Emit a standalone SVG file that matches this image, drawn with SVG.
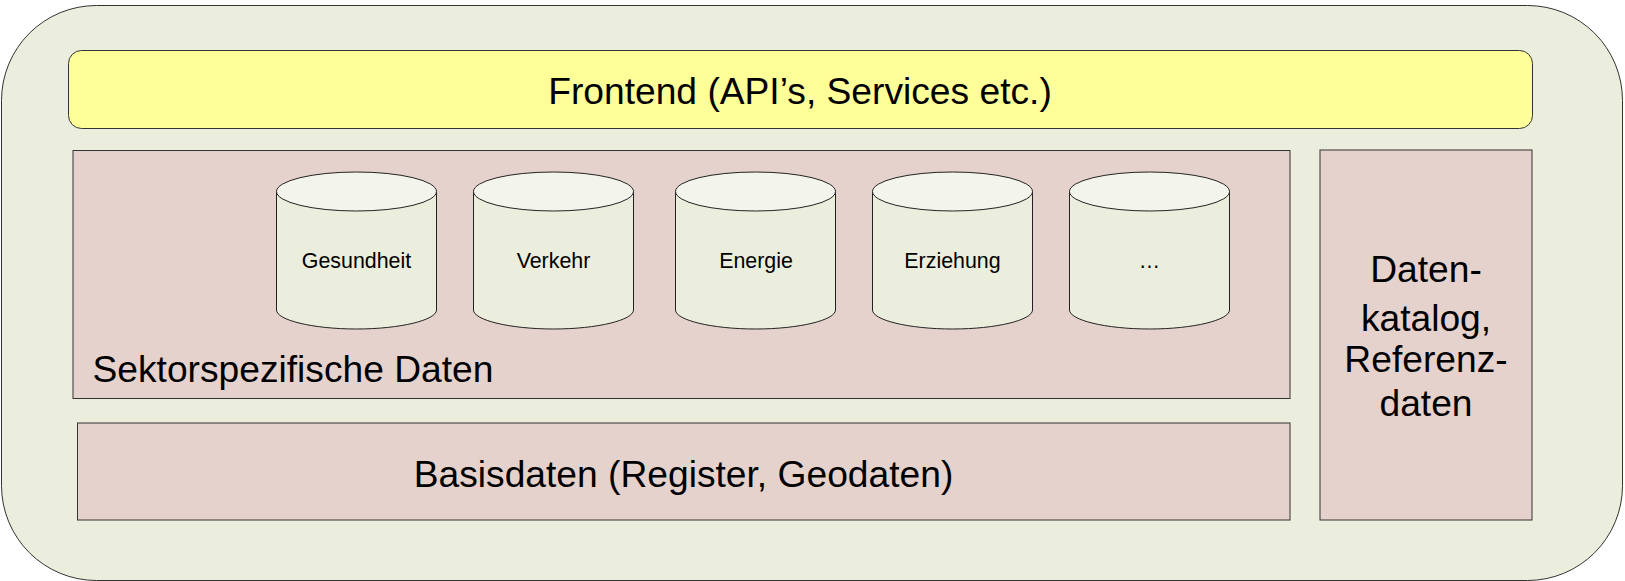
<svg xmlns="http://www.w3.org/2000/svg" width="1625" height="581" viewBox="0 0 1625 581">
<style>
.s{stroke:#333;stroke-width:1;}
.box{fill:#e6d2cd;stroke:#333;stroke-width:1;}
.cyl{fill:#ebeedd;stroke:#222;stroke-width:1;}
.top{fill:#f3f5ec;stroke:#222;stroke-width:1;}
text{font-family:"Liberation Sans",Arial,sans-serif;fill:#000;text-anchor:middle;}
.big{font-size:37.2px;}
.small{font-size:21.4px;}
</style>
<defs>
<g id="cylinder">
<path class="cyl" d="M0 19.5V138C0 148 36 157 80 157S160 148 160 138V19.5Z"/>
<ellipse class="top" cx="80" cy="19.5" rx="80" ry="19.5"/>
</g>
</defs>
<g id="connectors"></g>
<g id="outer"><rect x="1.5" y="5.5" width="1621" height="575" rx="95" ry="95" fill="#ebeedd" class="s"/></g>
<g id="frontend"><rect x="68.5" y="50.5" width="1464" height="78" rx="13" ry="13" fill="#ffff99" class="s"/><text class="big" x="800" y="104">Frontend (API’s, Services etc.)</text></g>
<g id="sektor"><rect class="box" x="73" y="150.5" width="1217" height="248"/><text class="big" x="293" y="382">Sektorspezifische Daten</text></g>
<g id="basis"><rect class="box" x="77.5" y="423" width="1212.5" height="97"/><text class="big" x="683.5" y="487">Basisdaten (Register, Geodaten)</text></g>
<g id="katalog"><rect class="box" x="1320" y="150" width="212" height="370"/>
<text class="big" x="1426" y="282">Daten-</text><text class="big" x="1426" y="331">katalog,</text><text class="big" x="1426" y="372">Referenz-</text><text class="big" x="1426" y="416">daten</text></g>
<g id="gesundheit"><use href="#cylinder" x="276.5" y="172"/><text class="small" x="356.5" y="268">Gesundheit</text></g>
<g id="verkehr"><use href="#cylinder" x="473.5" y="172"/><text class="small" x="553.5" y="268">Verkehr</text></g>
<g id="energie"><use href="#cylinder" x="675.5" y="172"/><text class="small" x="756" y="268">Energie</text></g>
<g id="erziehung"><use href="#cylinder" x="872.5" y="172"/><text class="small" x="952.5" y="268">Erziehung</text></g>
<g id="weitere"><use href="#cylinder" x="1069.5" y="172"/><text class="small" x="1149.5" y="268">…</text></g>
</svg>
